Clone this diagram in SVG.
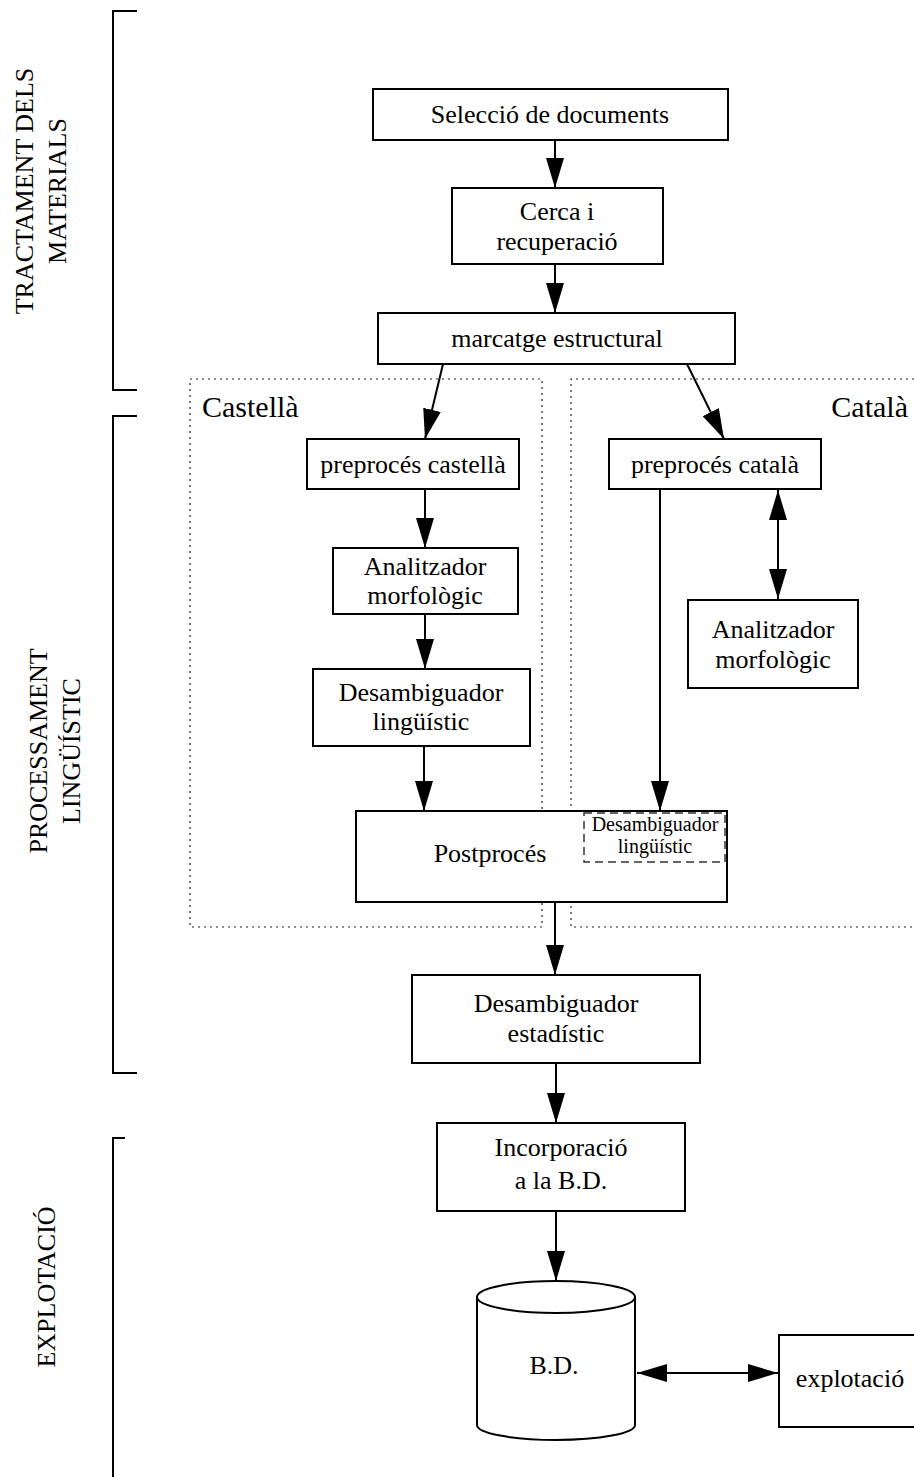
<svg xmlns="http://www.w3.org/2000/svg" width="914" height="1477" viewBox="0 0 914 1477">
<style>
text{font-family:"Liberation Serif","Times New Roman",serif;font-size:26px;fill:#000;text-anchor:middle}
.box{fill:#fff;stroke:#000;stroke-width:2}
.ln{fill:none;stroke:#000;stroke-width:2}
.dot{fill:none;stroke:#222;stroke-width:1.2;stroke-dasharray:2 4}
.dash{fill:none;stroke:#333;stroke-width:1.5;stroke-dasharray:8 5}
.big{font-size:30px}
.small{font-size:20px}
</style>
<defs>
<marker id="ah" markerUnits="userSpaceOnUse" markerWidth="30" markerHeight="18" refX="30" refY="9" orient="auto-start-reverse">
<path d="M0,0 L30,9 L0,18 z" fill="#000"/>
</marker>
</defs>

<g id="brackets">
<path class="ln" d="M137,11 H113 V390 H137"/>
<path class="ln" d="M137,416 H113 V1073 H137"/>
<path class="ln" d="M125,1138 H113 V1477"/>
<text transform="translate(33,191) rotate(-90)"><tspan x="0" y="0">TRACTAMENT DELS</tspan><tspan x="0" y="33">MATERIALS</tspan></text>
<text transform="translate(47,751) rotate(-90)"><tspan x="0" y="0">PROCESSAMENT</tspan><tspan x="0" y="33">LINGÜÍSTIC</tspan></text>
<text transform="translate(55,1287) rotate(-90)">EXPLOTACIÓ</text>
</g>

<g id="regions">
<rect class="dot" x="190" y="379" width="352" height="548"/>
<path class="dot" d="M914,379 H571 V927 H914"/>
<text class="big" x="202" y="417" style="text-anchor:start">Castellà</text>
<text class="big" x="908" y="417" style="text-anchor:end">Català</text>
</g>

<g id="connectors">
<line class="ln" x1="555" y1="140" x2="555" y2="188" marker-end="url(#ah)"/>
<line class="ln" x1="555" y1="264" x2="555" y2="313" marker-end="url(#ah)"/>
<line class="ln" x1="443" y1="364" x2="425" y2="439" marker-end="url(#ah)"/>
<line class="ln" x1="687" y1="364" x2="724" y2="439" marker-end="url(#ah)"/>
<line class="ln" x1="425" y1="489" x2="425" y2="548" marker-end="url(#ah)"/>
<line class="ln" x1="425" y1="614" x2="425" y2="669" marker-end="url(#ah)"/>
<line class="ln" x1="424" y1="746" x2="424" y2="811" marker-end="url(#ah)"/>
<line class="ln" x1="660" y1="489" x2="660" y2="811" marker-end="url(#ah)"/>
<line class="ln" x1="778" y1="490" x2="778" y2="599" marker-start="url(#ah)" marker-end="url(#ah)"/>
<line class="ln" x1="555" y1="902" x2="555" y2="975" marker-end="url(#ah)"/>
<line class="ln" x1="556" y1="1063" x2="556" y2="1123" marker-end="url(#ah)"/>
<line class="ln" x1="556" y1="1211" x2="556" y2="1281" marker-end="url(#ah)"/>
<line class="ln" x1="637" y1="1373" x2="778" y2="1373" marker-start="url(#ah)" marker-end="url(#ah)"/>
</g>

<g id="n-seleccio">
<rect class="box" x="373" y="89" width="355" height="51"/>
<text x="550" y="123">Selecció de documents</text>
</g>
<g id="n-cerca">
<rect class="box" x="452" y="188" width="211" height="76"/>
<text x="557" y="220">Cerca i</text>
<text x="557" y="250">recuperació</text>
</g>
<g id="n-marcatge">
<rect class="box" x="378" y="313" width="357" height="51"/>
<text x="557" y="347">marcatge estructural</text>
</g>
<g id="n-preproces-castella">
<rect class="box" x="307" y="439" width="212" height="50"/>
<text x="413" y="473">preprocés castellà</text>
</g>
<g id="n-preproces-catala">
<rect class="box" x="609" y="439" width="212" height="50"/>
<text x="715" y="473">preprocés català</text>
</g>
<g id="n-analitzador-castella">
<rect class="box" x="333" y="548" width="185" height="66"/>
<text x="425" y="575">Analitzador</text>
<text x="425" y="604">morfològic</text>
</g>
<g id="n-analitzador-catala">
<rect class="box" x="688" y="600" width="170" height="88"/>
<text x="773" y="638">Analitzador</text>
<text x="773" y="668">morfològic</text>
</g>
<g id="n-desamb-ling">
<rect class="box" x="313" y="669" width="217" height="77"/>
<text x="421" y="701">Desambiguador</text>
<text x="421" y="730">lingüístic</text>
</g>
<g id="n-postproces">
<rect class="box" x="356" y="811" width="371" height="91"/>
<text x="490" y="862">Postprocés</text>
<rect class="dash" x="584" y="813" width="141" height="49"/>
<text class="small" x="655" y="831">Desambiguador</text>
<text class="small" x="655" y="853">lingüístic</text>
</g>
<g id="n-desamb-est">
<rect class="box" x="412" y="975" width="288" height="88"/>
<text x="556" y="1012">Desambiguador</text>
<text x="556" y="1042">estadístic</text>
</g>
<g id="n-incorporacio">
<rect class="box" x="437" y="1123" width="248" height="88"/>
<text x="561" y="1156">Incorporació</text>
<text x="561" y="1189">a la B.D.</text>
</g>
<g id="n-bd">
<path class="box" d="M477,1297 V1425 A79,15 0 0 0 635,1425 V1297 A79,16 0 0 0 477,1297 Z"/>
<path class="ln" d="M477,1297 A79,16 0 0 0 635,1297"/>
<text x="554" y="1374">B.D.</text>
</g>
<g id="n-explotacio">
<rect class="box" x="779" y="1335" width="145" height="92"/>
<text x="850" y="1387">explotació</text>
</g>
</svg>
